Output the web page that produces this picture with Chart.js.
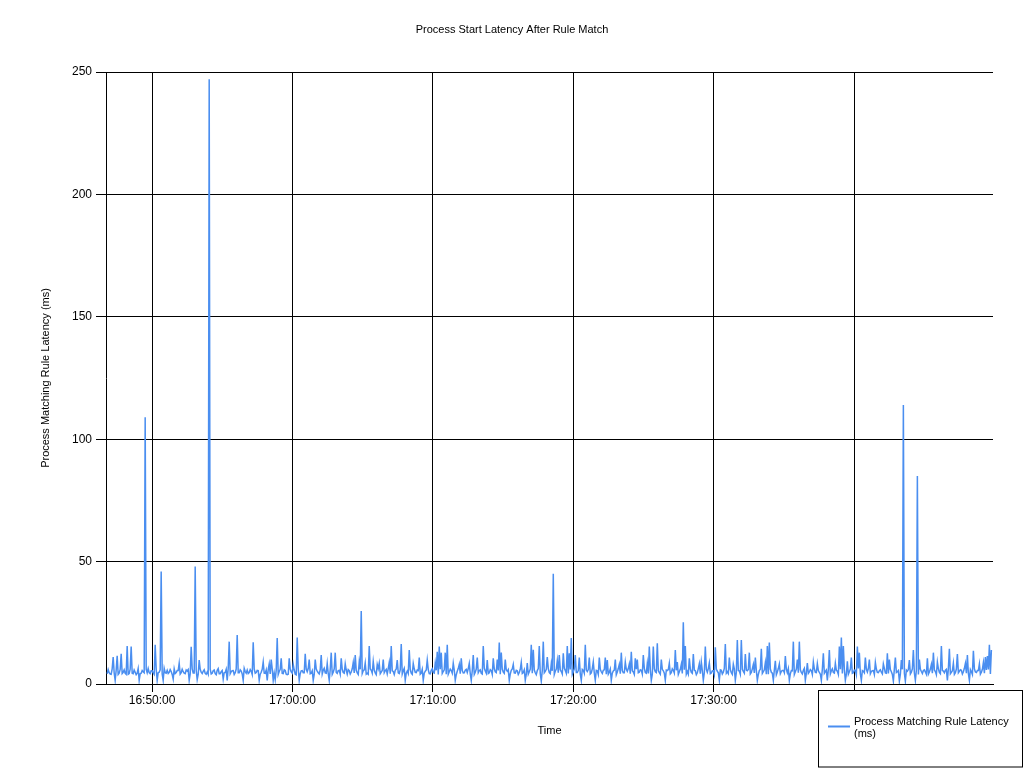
<!DOCTYPE html>
<html>
<head>
<meta charset="utf-8">
<title>Process Start Latency After Rule Match</title>
<script src="https://cdn.jsdelivr.net/npm/chart.js@4/dist/chart.umd.min.js"></script>
<style>
  html, body { margin: 0; padding: 0; background: #fff; }
  #latencyChart { display: block; }
</style>
</head>
<body>
<canvas id="latencyChart" width="1024" height="768"></canvas>
<script>
// Chart text
const chartTitle = 'Process Start Latency After Rule Match';
const seriesLabel = 'Process Matching Rule Latency (ms)';
const xAxisTitle = 'Time';
const yAxisTitle = 'Process Matching Rule Latency (ms)';

// Time axis (seconds since midnight)
const axisStart = 16 * 3600 + 46 * 60 + 43;   // left edge of plot
const axisEnd = 17 * 3600 + 49 * 60 + 54;     // right edge of plot
const firstSample = 16 * 3600 + 46 * 60 + 48; // first reading
const sampleSeconds = 4.275;                  // spacing between readings
const timeTicks = ['16:50:00', '17:00:00', '17:10:00', '17:20:00', '17:30:00', '17:40:00'];
const hiddenTimeLabels = ['17:40:00'];        // sits under the legend box

// Value axis
const yTicks = [0, 50, 100, 150, 200, 250];

// Latency readings (ms)
const latencyMs = [
  4.2, 5.9, 4.6, 4.1, 4.0, 6.2, 11, 4.5, 1.5, 5.6, 11.5, 3.9, 4.4, 6.0, 12.3, 4.3, 4.8, 5.8, 4.4, 4.0,
  15.5, 4.0, 4.3, 6.1, 15.3, 4.4, 4.2, 5.7, 4.8, 3.8, 4.4, 6.3, 1.5, 4.2, 4.4, 5.5, 5.0, 4.6, 109, 6.0,
  4.6, 6.3, 4.6, 4.2, 5.4, 5.4, 4.5, 3.9, 16, 6.1, 1.5, 4.6, 4.8, 5.8, 46, 4.1, 1.5, 6.4, 4.6, 4.4,
  5.6, 4.3, 4.8, 5.9, 5.1, 3.9, 2.0, 6.2, 4.3, 4.7, 5.5, 5.5, 8.5, 4.0, 4.6, 6.0, 5.0, 4.4, 4.2, 5.7,
  5.3, 5.9, 1.5, 4.1, 15.2, 6.2, 4.5, 4.5, 48, 5.6, 1.8, 3.9, 9.8, 6.0, 4.8, 4.3, 5.2, 5.8, 4.4, 4.0,
  4.9, 4.0, 247, 6.1, 4.1, 4.4, 5.4, 5.7, 4.2, 3.8, 5.6, 6.3, 4.2, 4.2, 5.0, 5.5, 2.0, 4.6, 4.7, 6.0,
  1.5, 6.3, 17.3, 4.2, 5.0, 5.4, 5.5, 3.9, 4.6, 6.1, 20, 4.6, 4.6, 5.8, 5.3, 4.1, 1.5, 6.4, 5.1, 4.4,
  5.7, 4.3, 4.7, 5.9, 5.2, 3.9, 17, 6.2, 4.4, 4.7, 5.6, 5.5, 1.5, 4.0, 4.8, 6.0, 9, 4.4, 4.3, 5.7,
  1.5, 5.9, 8.2, 4.1, 10, 6.2, 1.5, 4.5, 1.8, 5.6, 18.8, 3.9, 5.1, 6.0, 10.5, 4.3, 4.2, 5.8, 5.5, 4.0,
  3.8, 4.0, 10.5, 6.1, 4.9, 4.4, 8.0, 5.7, 4.0, 3.8, 19, 6.3, 1.5, 4.2, 5.4, 5.5, 4.6, 4.6, 12.3, 6.0,
  5.0, 6.3, 10, 4.2, 4.4, 5.4, 1.5, 3.9, 10, 6.1, 5.3, 4.6, 4.1, 5.8, 11.8, 4.1, 5.6, 6.4, 4.5, 4.4,
  8.4, 4.3, 1.5, 5.9, 12.8, 3.9, 4.8, 6.2, 12.8, 4.7, 4.3, 5.5, 5.6, 4.0, 10.5, 6.0, 4.7, 4.4, 8.2, 5.7,
  4.0, 5.9, 5.5, 4.1, 4.9, 6.2, 8.8, 4.5, 11.8, 5.6, 4.5, 3.9, 9.0, 6.0, 29.8, 4.3, 5.4, 5.8, 8.6, 4.0,
  4.4, 4.0, 15.5, 6.1, 5.6, 4.4, 9.2, 5.7, 4.5, 3.8, 8.0, 6.3, 8.5, 4.2, 4.9, 5.5, 10, 4.6, 5.4, 6.0,
  4.1, 6.3, 8.8, 4.2, 15.5, 5.4, 5.1, 3.9, 5.6, 6.1, 9.8, 4.6, 4.3, 5.8, 16.3, 4.1, 5.4, 6.4, 1.5, 4.4,
  5.3, 4.3, 13.9, 5.9, 4.4, 3.9, 8.4, 6.2, 4.8, 4.7, 5.7, 5.5, 10.8, 4.0, 4.4, 6.0, 1.5, 4.4, 5.2, 5.7,
  9.8, 5.9, 4.2, 4.1, 5.6, 6.2, 4.7, 4.5, 8.6, 5.6, 13.2, 3.9, 15.3, 6.0, 12.8, 4.3, 5.1, 5.8, 12.8, 4.0,
  16, 4.0, 5.0, 6.1, 5.5, 4.4, 8.5, 5.7, 1.5, 3.8, 5.2, 6.3, 8.0, 4.2, 10.5, 5.5, 4.5, 4.6, 5.6, 6.0,
  4.7, 6.3, 8.4, 4.2, 1.5, 5.4, 11.8, 3.9, 4.8, 6.1, 10.8, 4.6, 5.4, 5.8, 4.4, 4.1, 15.5, 6.4, 5.3, 4.4,
  9.8, 4.3, 4.6, 5.9, 5.5, 3.9, 10.5, 6.2, 5.0, 4.7, 10, 5.5, 16.9, 4.0, 12.9, 6.0, 4.9, 4.4, 10, 5.7,
  5.2, 5.9, 1.5, 4.1, 5.6, 6.2, 8, 4.5, 4.4, 5.6, 5.4, 3.9, 4.7, 6.0, 8.8, 4.3, 4.7, 5.8, 1.5, 4.0,
  8.5, 4.0, 5.0, 6.1, 16, 4.4, 14, 5.7, 4.6, 3.8, 5.5, 6.3, 15.5, 4.2, 1.2, 5.5, 17.3, 4.6, 5.2, 6.0,
  11, 6.3, 4.6, 4.2, 8.2, 5.4, 45, 3.9, 5.2, 6.1, 9.5, 4.6, 11.8, 5.8, 5.1, 4.1, 12.5, 6.4, 5.5, 4.4,
  15.5, 4.3, 12.5, 5.9, 18.8, 3.9, 5.0, 6.2, 11.8, 4.7, 4.7, 5.5, 10.8, 4.0, 1.5, 6.0, 5.6, 4.4, 16, 5.7,
  5.1, 5.9, 10.8, 4.1, 4.5, 6.2, 9, 4.5, 1.5, 5.6, 5.4, 3.9, 10.8, 6.0, 5.0, 4.3, 5.6, 5.8, 10.8, 4.0,
  9.8, 4.0, 4.8, 6.1, 1.5, 4.4, 5.3, 5.7, 10, 3.8, 4.9, 6.3, 8.0, 4.2, 12.8, 5.5, 4.6, 4.6, 9, 6.0,
  5.2, 6.3, 8.2, 4.2, 13.2, 5.4, 4.9, 3.9, 10.5, 6.1, 10, 4.6, 4.8, 5.8, 5.6, 4.1, 11.8, 6.4, 4.7, 4.4,
  8.4, 4.3, 15.3, 5.9, 1.5, 3.9, 15.3, 6.2, 5.0, 4.7, 16.6, 5.5, 4.6, 4.0, 10, 6.0, 5.4, 4.4, 1.5, 5.7,
  5.5, 5.9, 8.5, 4.1, 4.6, 6.2, 5.6, 4.5, 13.9, 5.6, 9, 3.9, 5.0, 6.0, 8.0, 4.3, 25.2, 5.8, 15.5, 4.0,
  5.1, 4.0, 10.5, 6.1, 4.8, 4.4, 12.2, 5.7, 5.4, 3.8, 4.6, 6.3, 8.3, 4.2, 9, 5.5, 1.5, 4.6, 15.3, 6.0,
  4.8, 6.3, 8.6, 4.2, 4.5, 5.4, 5.5, 3.9, 15, 6.1, 5.2, 4.6, 1.5, 5.8, 5.6, 4.1, 4.8, 6.4, 16.3, 4.4,
  5.0, 4.3, 10.8, 5.9, 4.6, 3.9, 8.1, 6.2, 1.5, 4.7, 18, 5.5, 5.3, 4.0, 18, 6.0, 5.1, 4.4, 12.2, 5.7,
  5.4, 5.9, 12.8, 4.1, 4.7, 6.2, 8.0, 4.5, 10.8, 5.6, 1.5, 3.9, 5.5, 6.0, 14.4, 4.3, 5.0, 5.8, 8.7, 4.0,
  15.5, 4.0, 16.9, 6.1, 4.8, 4.4, 1.5, 5.7, 9.5, 3.8, 4.9, 6.3, 8.2, 4.2, 5.1, 5.5, 5.6, 4.6, 11.4, 6.0,
  4.6, 6.3, 1.5, 4.2, 5.5, 5.4, 17.3, 3.9, 5.0, 6.1, 10, 4.6, 17.3, 5.8, 4.7, 4.1, 5.6, 6.4, 1.5, 4.4,
  8.5, 4.3, 4.9, 5.9, 5.5, 3.9, 9, 6.2, 4.8, 4.7, 8.3, 5.5, 4.7, 4.0, 1.5, 6.0, 12.5, 4.4, 5.1, 5.7,
  1.5, 5.9, 13.9, 4.1, 5.4, 6.2, 4.7, 4.5, 8.5, 5.6, 5.2, 3.9, 15.3, 6.0, 19, 4.3, 15.5, 5.8, 1.5, 4.0,
  9.3, 4.0, 5.0, 6.1, 10.8, 4.4, 4.6, 5.7, 5.6, 3.8, 15.3, 6.3, 12.8, 4.2, 1.5, 5.5, 5.2, 4.6, 10.8, 6.0,
  4.9, 6.3, 10, 4.2, 5.1, 5.4, 5.5, 3.9, 8.8, 6.1, 4.7, 4.6, 5.4, 5.8, 4.8, 4.1, 8.2, 6.4, 4.5, 4.4,
  12.5, 4.3, 10, 5.9, 5.0, 3.9, 1.2, 6.2, 10.8, 4.7, 5.0, 5.5, 1.2, 4.0, 9.8, 6.0, 114, 4.4, 1.2, 5.7,
  5.2, 5.9, 9.8, 4.1, 4.8, 6.2, 13.9, 4.5, 1.5, 5.6, 85, 3.9, 10, 6.0, 5.1, 4.3, 5.5, 5.8, 4.9, 4.0,
  10.5, 4.0, 4.9, 6.1, 8.0, 4.4, 12.8, 5.7, 5.1, 3.8, 9, 6.3, 4.7, 4.2, 15.5, 5.5, 5.3, 4.6, 5.6, 6.0,
  1.5, 6.3, 14.4, 4.2, 4.8, 5.4, 8.5, 3.9, 4.6, 6.1, 12.2, 4.6, 5.2, 5.8, 5.6, 4.1, 5.0, 6.4, 8.4, 4.4,
  11.8, 4.3, 1.5, 5.9, 5.0, 3.9, 13.6, 6.2, 4.9, 4.7, 5.5, 5.5, 8.2, 4.0, 4.8, 6.0, 8.8, 4.4, 11, 5.7,
  11.4, 5.9, 16, 4.1, 13.9
];

const lineColor = '#4a8ef0';
const inkColor = '#000000';
const fontFamily = '"Liberation Sans", Arial, sans-serif';

function parseClock(label) {
    const [h, m, s] = label.split(':').map(Number);
    return h * 3600 + m * 60 + s;
}

function formatClock(seconds) {
    const s = Math.round(seconds);
    const hh = String(Math.floor(s / 3600)).padStart(2, '0');
    const mm = String(Math.floor((s % 3600) / 60)).padStart(2, '0');
    const ss = String(s % 60).padStart(2, '0');
    return hh + ':' + mm + ':' + ss;
}

// Pair each reading with its sample time
const points = latencyMs.map((v, i) => ({ x: firstSample + i * sampleSeconds, y: v }));

// Title and boxed legend, drawn like the original report
const decorations = {
    id: 'decorations',
    afterDraw(chart) {
        const ctx = chart.ctx;
        ctx.save();
        ctx.fillStyle = inkColor;
        ctx.font = '11px ' + fontFamily;
        ctx.textAlign = 'center';
        ctx.textBaseline = 'middle';
        ctx.fillText(chartTitle, chart.width / 2, 30);

        // legend box
        ctx.fillStyle = '#ffffff';
        ctx.fillRect(818, 690, 205, 78);
        ctx.strokeStyle = inkColor;
        ctx.lineWidth = 1;
        ctx.strokeRect(818.5, 690.5, 204, 76.5);

        const ds = chart.data.datasets[0];
        ctx.strokeStyle = ds.borderColor;
        ctx.lineWidth = 2;
        ctx.beginPath();
        ctx.moveTo(828, 726.5);
        ctx.lineTo(850, 726.5);
        ctx.stroke();

        ctx.fillStyle = inkColor;
        ctx.textAlign = 'left';
        ctx.fillText('Process Matching Rule Latency', 854, 721.5);
        ctx.fillText('(ms)', 854, 733.5);
        ctx.restore();
    }
};

document.addEventListener('DOMContentLoaded', function() {
    const ctx = document.getElementById('latencyChart').getContext('2d');
    new Chart(ctx, {
        type: 'line',
        data: {
            datasets: [{
                label: seriesLabel,
                data: points,
                borderColor: lineColor,
                backgroundColor: lineColor,
                borderWidth: 1.5,
                pointRadius: 0,
                tension: 0,
                fill: false
            }]
        },
        options: {
            responsive: false,
            animation: false,
            devicePixelRatio: 1,
            layout: { padding: { top: 72, right: 31, left: 0, bottom: 0 } },
            plugins: {
                legend: { display: false },
                title: { display: false },
                tooltip: { enabled: false }
            },
            scales: {
                x: {
                    type: 'linear',
                    min: axisStart,
                    max: axisEnd,
                    afterFit: scale => { scale.height = 84; },
                    afterBuildTicks: scale => {
                        scale.ticks = timeTicks.map(t => ({ value: parseClock(t) }));
                    },
                    ticks: {
                        autoSkip: false,
                        maxRotation: 0,
                        padding: 1,
                        color: inkColor,
                        font: { family: fontFamily, size: 12 },
                        callback: function(value) {
                            const label = formatClock(value);
                            return hiddenTimeLabels.includes(label) ? '' : label;
                        }
                    },
                    grid: { color: inkColor, lineWidth: 1, tickLength: 8 },
                    border: { display: true, color: inkColor, width: 1 },
                    title: {
                        display: true,
                        text: xAxisTitle,
                        color: inkColor,
                        font: { family: fontFamily, size: 11 },
                        padding: { top: 0, bottom: 30 }
                    }
                },
                y: {
                    min: 0,
                    max: 250,
                    afterFit: scale => { scale.width = 106; },
                    afterBuildTicks: scale => {
                        scale.ticks = yTicks.map(v => ({ value: v }));
                    },
                    ticks: {
                        padding: 4,
                        color: inkColor,
                        font: { family: fontFamily, size: 12 }
                    },
                    grid: { color: inkColor, lineWidth: 1, tickLength: 10 },
                    border: { display: true, color: inkColor, width: 1 },
                    title: {
                        display: true,
                        text: yAxisTitle,
                        color: inkColor,
                        font: { family: fontFamily, size: 11 },
                        padding: { top: 39, bottom: 0 }
                    }
                }
            }
        },
        plugins: [decorations]
    });
});
</script>
</body>
</html>
